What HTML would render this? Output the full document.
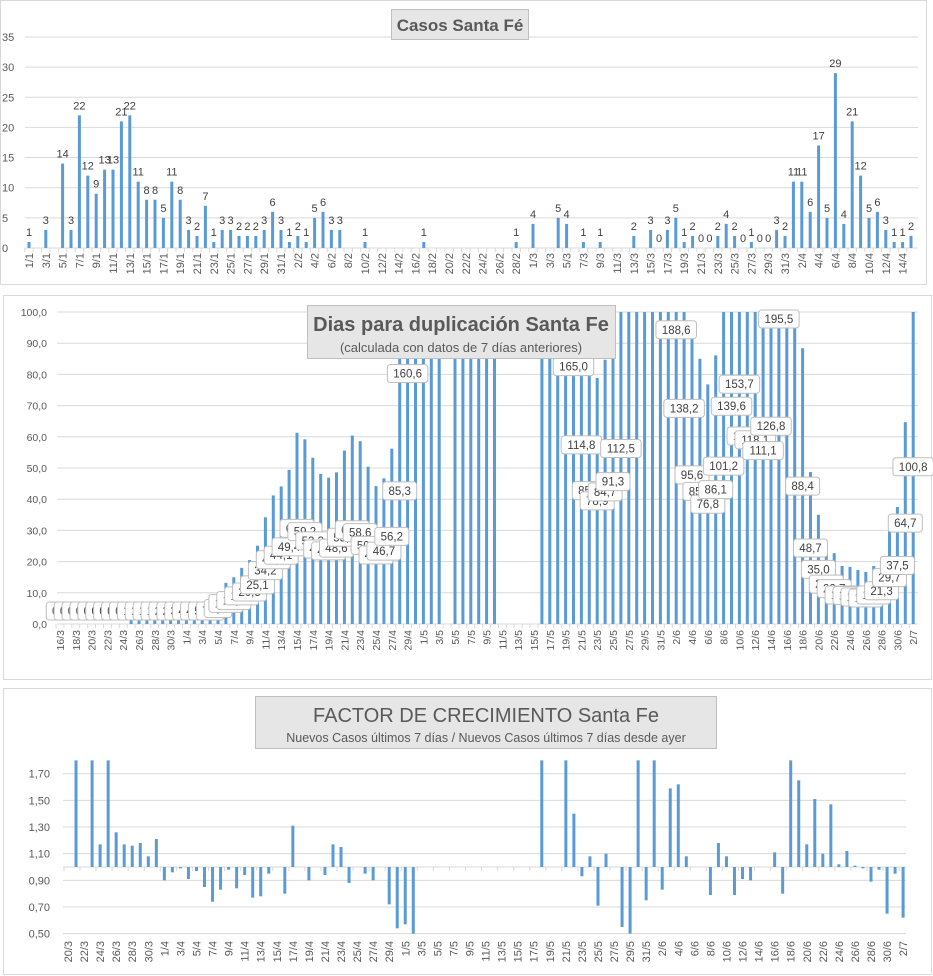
<!DOCTYPE html>
<html><head><meta charset="utf-8">
<style>
html,body{margin:0;padding:0;background:#fff;}
svg{display:block;font-family:"Liberation Sans",Calibri,sans-serif;}
</style></head>
<body>
<svg id="svg" width="933" height="976" viewBox="0 0 933 976" xmlns="http://www.w3.org/2000/svg">
  <rect x="0.5" y="0.5" width="926" height="284" fill="#fff" stroke="#d9d9d9"/>
  <rect x="3.5" y="295.5" width="928" height="384" fill="#fff" stroke="#d9d9d9"/>
  <rect x="3.5" y="688.5" width="928" height="286" fill="#fff" stroke="#d9d9d9"/>
  <g id="c1"></g>
  <g id="c2"></g>
  <g id="c3"></g>
  <g>
    <rect x="391.5" y="9.5" width="137" height="30" fill="#e6e6e6" stroke="#bfbfbf"/>
    <text x="460" y="31" text-anchor="middle" font-size="17" font-weight="bold" fill="#595959">Casos  Santa  Fé</text>
  </g>
  <g>
    <rect x="307.5" y="305.5" width="308" height="53" fill="#e6e6e6" stroke="#bfbfbf"/>
    <text x="461" y="331" text-anchor="middle" font-size="20" font-weight="bold" fill="#595959">Dias para duplicación Santa Fe</text>
    <text x="461" y="352" text-anchor="middle" font-size="13" fill="#595959">(calculada con datos de 7 días anteriores)</text>
  </g>
  <g>
    <rect x="255.5" y="696.5" width="461" height="52" fill="#e6e6e6" stroke="#bfbfbf"/>
    <text x="486" y="722" text-anchor="middle" font-size="20" fill="#595959">FACTOR DE CRECIMIENTO Santa Fe</text>
    <text x="486" y="742" text-anchor="middle" font-size="12.5" fill="#595959">Nuevos Casos últimos 7 días / Nuevos Casos últimos 7 días desde ayer</text>
  </g>
</svg>
<script>
const NS='http://www.w3.org/2000/svg';
function makeDates(d,m,n){const out=[];const dt=new Date(Date.UTC(2020,m-1,d));for(let i=0;i<n;i++){out.push(dt.getUTCDate()+'/'+(dt.getUTCMonth()+1));dt.setUTCDate(dt.getUTCDate()+1);}return out;}

// ---- Chart 1 data: daily cases ----
const casesDates = makeDates(1,1,106);
const casesValues = [1,null,3,null,14,3,22,12,9,13,13,21,22,11,8,8,5,11,8,3,2,7,1,3,3,2,2,2,3,6,3,1,2,1,5,6,3,3,null,null,1,null,null,null,null,null,null,1,null,null,null,null,null,null,null,null,null,null,1,null,4,null,null,5,4,null,1,null,1,null,null,null,2,null,3,0,3,5,1,2,0,0,2,4,2,0,1,0,0,3,2,11,11,6,17,5,29,4,21,12,5,6,3,1,1,2];
const casesTicks = [0,5,10,15,20,25,30,35];

// ---- Chart 2 data: doubling days ----
const dupDates = makeDates(16,3,109);
const dupValues = [0,0,0,0,0,0,0,0,0,1.2,1.5,1.8,1.9,2.3,2.8,3.4,4.1,4.6,5.3,7.5,9.9,13.2,15.0,18.0,20.5,25.1,34.2,41.2,44.1,49.4,61.3,59.2,53.3,48.1,46.9,48.6,55.6,60.4,58.6,50.4,44.2,46.7,56.2,85.3,160.6,250,260,300,280,null,300,280,290,260,250,240,null,null,null,null,null,250,260,240,220,165.0,114.8,85.5,78.9,84.7,91.3,112.5,230,260,250,240,230,220,188.6,138.2,95.6,85.0,76.8,86.1,101.2,139.6,153.7,120.5,118.1,111.1,126.8,195.5,230,220,88.4,48.7,35.0,25.6,22.7,18.6,18.3,17.3,16.7,18.6,21.3,29.7,37.5,64.7,100.8];
const dupTicks = [0,10,20,30,40,50,60,70,80,90,100];

// ---- Chart 3 data: growth factor ----
const gfDates = makeDates(20,3,105);
const gfValues = [null,1.85,null,1.85,1.17,1.85,1.26,1.17,1.16,1.18,1.08,1.21,0.90,0.96,0.99,0.91,0.97,0.85,0.74,0.83,0.98,0.84,0.94,0.77,0.78,0.95,null,0.80,1.31,null,0.90,null,0.94,1.17,1.15,0.88,null,0.95,0.90,null,0.72,0.54,0.57,0.50,null,null,null,null,null,null,null,null,null,null,null,null,null,null,null,1.85,null,null,1.85,1.40,0.93,1.08,0.71,1.10,null,0.55,0.50,1.85,0.75,1.85,0.83,1.59,1.62,1.08,null,null,0.79,1.18,1.08,0.79,0.91,0.90,null,null,1.11,0.80,1.85,1.65,1.17,1.51,1.10,1.47,1.02,1.12,1.01,0.99,0.89,0.98,0.65,0.95,0.62];
const gfTicks = [0.5,0.7,0.9,1.1,1.3,1.5,1.7];

function mk(tag,attrs,parent){const e=document.createElementNS(NS,tag);for(const k in attrs)e.setAttribute(k,attrs[k]);parent.appendChild(e);return e;}
const BLUE='#5b9bd5', GRID='#d9d9d9', TXT='#595959';

// ===== Chart 1 =====
(function(){
  const g=document.getElementById('c1');
  const x0=29, dx=8.4, yB=248, yS=6.03;
  const X=i=>x0+dx*i, Y=v=>yB-v*yS;
  casesTicks.forEach(t=>{
    const l=mk('line',{x1:25,x2:918,y1:Y(t),y2:Y(t),stroke:GRID,'stroke-width':1},g);
    
    
    const tx=mk('text',{x:2,y:Y(t)+4,'font-size':11,fill:TXT},g);
    tx.textContent=t;
    
    
  });
  casesDates.forEach((d,i)=>{
    const tk=mk('line',{x1:X(i)-dx/2,x2:X(i)-dx/2,y1:yB,y2:yB+4,stroke:GRID},g);
    
    
    if(i%2===0){
      const t=mk('text',{x:0,y:0,'font-size':11,fill:TXT,'text-anchor':'end',transform:`translate(${X(i)+4},${yB+5}) rotate(-90)`},g);
      t.textContent=d;
      
      
    }
  });
  casesValues.forEach((v,i)=>{
    if(v===null)return;
    const b=mk('rect',{x:X(i)-1.5,y:Y(v),width:3,height:v*yS,fill:BLUE},g);
    
    
    const t=mk('text',{x:X(i),y:Y(v)-6,'font-size':11,fill:'#404040','text-anchor':'middle'},g);
    t.textContent=v;
    
    
  });
})();

// ===== Chart 2 =====
(function(){
  const g=document.getElementById('c2');
  const x0=60, dx=7.9, yB=624, yS=3.12, vMax=100;
  const X=i=>x0+dx*i, Y=v=>yB-Math.min(v,vMax)*yS;
  dupTicks.forEach(t=>{
    const l=mk('line',{x1:57,x2:918,y1:Y(t),y2:Y(t),stroke:GRID},g);
    
    
    const tx=mk('text',{x:47,y:Y(t)+4,'font-size':10.5,fill:TXT,'text-anchor':'end'},g);
    tx.textContent=t.toFixed(1).replace('.',',');
    
    
  });
  dupDates.forEach((d,i)=>{
    const tk=mk('line',{x1:X(i)-dx/2,x2:X(i)-dx/2,y1:yB,y2:yB+4,stroke:GRID},g);
    
    
    if(i%2===0){
      const t=mk('text',{x:0,y:0,'font-size':10.5,fill:TXT,'text-anchor':'end',transform:`translate(${X(i)+4},${yB+6}) rotate(-90)`},g);
      t.textContent=d;
      
      
    }
  });
  dupValues.forEach((v,i)=>{
    if(v===null||v<=0)return;
    const b=mk('rect',{x:X(i)-1.5,y:Y(v),width:3,height:yB-Y(v),fill:BLUE},g);
    
    
  });
  dupValues.forEach((v,i)=>{
    if(v===null||v/2>vMax)return;
    const s=v.toFixed(1).replace('.',',');
    const w=s.length*6.5+8;
    let cy=yB-(v/2)*yS; if(cy>yB-13)cy=yB-13;
    const bx=mk('rect',{x:X(i)-w/2,y:cy-9,width:w,height:18,rx:3,fill:'#fff',stroke:'#bfbfbf'},g);
    
    
    const t=mk('text',{x:X(i),y:cy+4,'font-size':11.5,fill:'#404040','text-anchor':'middle'},g);
    t.textContent=s;
    
    
  });
})();

// ===== Chart 3 =====
(function(){
  const g=document.getElementById('c3');
  const x0=68, dx=8.03, yBase=867, yS=133.3, vMax=1.8, vMin=0.5;
  const X=i=>x0+dx*i, Y=v=>yBase-(Math.max(vMin,Math.min(v,vMax))-1)*yS;
  gfTicks.forEach(t=>{
    const l=mk('line',{x1:63,x2:906,y1:Y(t),y2:Y(t),stroke:GRID},g);
    
    
    const tx=mk('text',{x:50,y:Y(t)+4,'font-size':11,fill:TXT,'text-anchor':'end'},g);
    tx.textContent=t.toFixed(2).replace('.',',');
    
    
  });
  const ax=mk('line',{x1:63,x2:906,y1:yBase,y2:yBase,stroke:GRID},g);
  
  
  gfDates.forEach((d,i)=>{
    if(i%2===0){
      const tk=mk('line',{x1:X(i)-dx/2,x2:X(i)-dx/2,y1:yBase,y2:yBase+4,stroke:GRID},g);
      
      
      const t=mk('text',{x:0,y:0,'font-size':11,fill:TXT,'text-anchor':'end',transform:`translate(${X(i)+4},${941}) rotate(-90)`},g);
      t.textContent=d;
      
      
    }
  });
  gfValues.forEach((v,i)=>{
    if(v===null)return;
    const y=Y(v);
    const b=mk('rect',{x:X(i)-1.5,y:Math.min(y,yBase),width:3,height:Math.max(1,Math.abs(yBase-y)),fill:BLUE},g);
    
    
  });
})();
</script>
</body></html>
